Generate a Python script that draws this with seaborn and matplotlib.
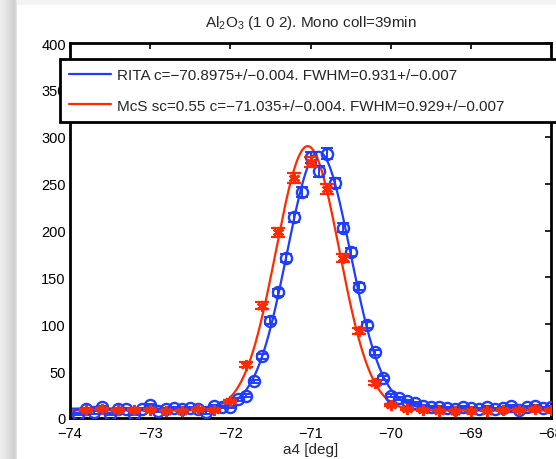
import numpy as np
import pandas as pd
import matplotlib
matplotlib.use("Agg")
import matplotlib.pyplot as plt
import seaborn as sns
from matplotlib.lines import Line2D

# ---------------- data ----------------
rita_x = [-73.9, -73.8, -73.7, -73.6, -73.5, -73.4, -73.3, -73.2, -73.1, -73.0,
          -72.9, -72.8, -72.7, -72.6, -72.5, -72.4, -72.3, -72.2, -72.1, -72.0,
          -71.9, -71.8, -71.7, -71.6, -71.5, -71.4, -71.3, -71.2, -71.1, -71.0,
          -70.9, -70.8, -70.7, -70.6, -70.5, -70.4, -70.3, -70.2, -70.1, -70.0,
          -69.9, -69.8, -69.7, -69.6, -69.5, -69.4, -69.3, -69.2, -69.1, -69.0,
          -68.9, -68.8, -68.7, -68.6, -68.5, -68.4, -68.3, -68.2, -68.1, -68.0]
rita_y = [4, 10, 6, 12, 4, 10, 10, 4, 10, 14,
          8, 10, 11, 10, 11, 10, 6, 13, 12, 12,
          20, 24, 39, 66, 104, 134, 171, 214, 241, 278,
          263, 282, 251, 203, 177, 140, 99, 70, 43, 24,
          21, 18, 16, 13, 12, 12, 11, 10, 12, 11,
          10, 12, 10, 11, 13, 9, 12, 13, 11, 12]
rita_err = [1.2, 1.2, 1.2, 1.2, 1.2, 1.2, 1.2, 1.2, 1.2, 1.2,
            1.2, 1.2, 1.2, 1.2, 1.2, 1.2, 1.2, 1.2, 1.2, 1.2,
            1.5, 1.6, 2.0, 2.7, 3.4, 3.8, 4.3, 4.8, 5.1, 5.5,
            5.4, 5.5, 5.2, 4.7, 4.4, 3.9, 3.3, 2.8, 2.2, 1.6,
            1.5, 1.4, 1.3, 1.2, 1.2, 1.2, 1.2, 1.2, 1.2, 1.2,
            1.2, 1.2, 1.2, 1.2, 1.2, 1.2, 1.2, 1.2, 1.2, 1.2]

mcs_x = [-73.8, -73.6, -73.4, -73.2, -73.0, -72.8, -72.6, -72.4, -72.2, -72.0,
         -71.8, -71.6, -71.4, -71.2, -71.0, -70.8, -70.6, -70.4, -70.2, -70.0,
         -69.8, -69.6, -69.4, -69.2, -69.0, -68.8, -68.6, -68.4, -68.2, -68.0]
mcs_y = [9, 10, 9, 9, 9, 8, 8, 10, 9, 18,
         57, 120, 198, 256, 273, 244, 171, 93, 37, 14,
         10, 9, 8, 8, 8, 8, 9, 9, 10, 9]
mcs_err = [1.0, 1.0, 1.0, 1.0, 1.0, 1.0, 1.0, 1.0, 1.0, 1.4,
           2.5, 3.6, 4.6, 5.3, 5.4, 5.1, 4.3, 3.2, 2.0, 1.2,
           1.0, 1.0, 1.0, 1.0, 1.0, 1.0, 1.0, 1.0, 1.0, 1.0]

rita_center, rita_fwhm, rita_amp, rita_bg = -70.8975, 0.931, 274, 10
mcs_center, mcs_fwhm, mcs_amp, mcs_bg = -71.035, 0.929, 282, 8

rita_label = "RITA c=\u221270.8975+/\u22120.004. FWHM=0.931+/\u22120.007"
mcs_label = "McS sc=0.55 c=\u221271.035+/\u22120.004. FWHM=0.929+/\u22120.007"
title_text = "Al$_2$O$_3$ (1 0 2). Mono coll=39min"
x_label = "a4 [deg]"
y_label = "cts/s in IW5"
x_ticks = [-74, -73, -72, -71, -70, -69, -68]
y_ticks = [0, 50, 100, 150, 200, 250, 300, 350, 400]

BLUE = "#1f3dff"
RED = "#ff2a00"

# ---------------- styling ----------------
sns.set_style("white")
plt.rcParams["font.family"] = ["Liberation Sans", "DejaVu Sans"]
plt.rcParams["mathtext.fontset"] = "custom"
plt.rcParams["mathtext.rm"] = "Liberation Sans"
plt.rcParams["mathtext.it"] = "Liberation Sans:italic"
plt.rcParams["font.size"] = 10

fig = plt.figure(figsize=(5.56, 4.6), dpi=100)
fig.patch.set_facecolor("white")

# window shadow (left strip and top strip)
H, W = 460, 556
shade = np.ones((H, W, 3))
left_prof = np.array([0.93, 0.93, 0.92, 0.92, 0.91, 0.90, 0.89, 0.88, 0.87,
                      0.86, 0.85, 0.84, 0.83, 0.82, 0.82, 0.84, 0.90])
shade[:, :len(left_prof), :] = left_prof[None, :, None]
shade[:6, len(left_prof):, :] = 0.96
fig.figimage(shade[:, :40, :], xo=0, yo=0, zorder=0)
fig.figimage(shade[:6, :, :], xo=0, yo=H - 6, zorder=0)

ax = fig.add_axes([70 / 556, 41 / 460, 481 / 556, 375 / 460])

# fit curves
xf = np.linspace(-74, -68, 600)
fit_df = pd.DataFrame({
    "x": np.concatenate([xf, xf]),
    "y": np.concatenate([
        rita_bg + rita_amp * np.exp(-4 * np.log(2) * (xf - rita_center) ** 2 / rita_fwhm ** 2),
        mcs_bg + mcs_amp * np.exp(-4 * np.log(2) * (xf - mcs_center) ** 2 / mcs_fwhm ** 2)]),
    "series": ["RITA"] * len(xf) + ["McS"] * len(xf),
})
sns.lineplot(data=fit_df, x="x", y="y", hue="series",
             palette={"RITA": BLUE, "McS": RED}, linewidth=1.6,
             legend=False, ax=ax, zorder=2)

# data with error bars
ax.errorbar(rita_x, rita_y, yerr=rita_err, fmt="none", ecolor=BLUE,
            elinewidth=1.4, capsize=4, capthick=1.4, zorder=3)
ax.plot(rita_x, rita_y, linestyle="none", marker="o", markersize=8,
        markerfacecolor="none", markeredgecolor=BLUE, markeredgewidth=1.7, zorder=3)
ax.errorbar(mcs_x, mcs_y, yerr=mcs_err, fmt="none", ecolor=RED,
            elinewidth=1.4, capsize=5, capthick=1.6, zorder=4)
ax.plot(mcs_x, mcs_y, linestyle="none", marker=(6, 2, 0), markersize=8,
        markeredgecolor=RED, markeredgewidth=1.9, zorder=4)

ax.set_xlim(-74, -68)
ax.set_ylim(0, 400)
ax.set_xticks(x_ticks)
ax.set_yticks(y_ticks)
ax.tick_params(direction="in", length=4.5, width=1.2, top=True, right=True,
               labelsize=10.5, colors="black")
ax.tick_params(axis="x", pad=6)
ax.tick_params(axis="y", pad=3)
for s in ax.spines.values():
    s.set_linewidth(2.0)
    s.set_color("black")
ax.set_xlabel(x_label, fontsize=11, labelpad=1)
ax.set_ylabel(y_label, fontsize=10.5, labelpad=6)
ax.set_title(title_text, fontsize=11, pad=12)

handles = [Line2D([0], [0], color=BLUE, lw=1.6), Line2D([0], [0], color=RED, lw=1.6)]
leg = ax.legend(handles, [rita_label, mcs_label],
                bbox_to_anchor=(60 / 556, 0.0, 1.2, (460 - 60) / 460),
                bbox_transform=fig.transFigure, loc="upper left", mode="expand",
                borderaxespad=0, fontsize=11, handlelength=2.75, handletextpad=0.33,
                labelspacing=1.05, borderpad=0.62, fancybox=False, framealpha=1,
                edgecolor="black")
leg.get_frame().set_linewidth(2.0)
leg.set_zorder(10)

fig.savefig("out.png", dpi=100)
